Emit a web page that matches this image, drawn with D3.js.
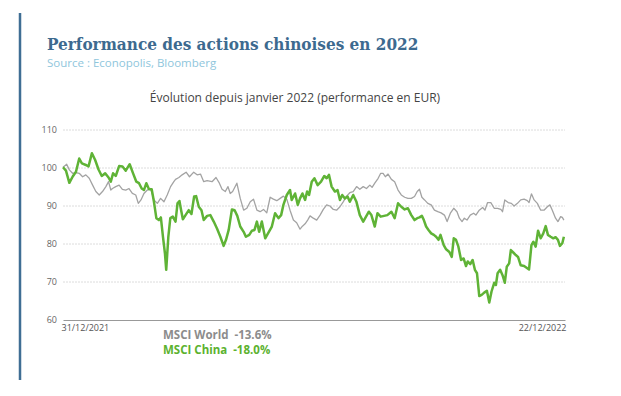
<!DOCTYPE html>
<html>
<head>
<meta charset="utf-8">
<script src="https://cdn.jsdelivr.net/npm/d3@7"></script>
<style>
  body { margin: 0; background: #fff; }
  svg { display: block; }
</style>
</head>
<body>
<script>
// Data (days since 31/12/2021, index base 100)
var worldDays = [0, 2.6, 4.5, 6.8, 9.2, 11.5, 13.9, 16.2, 18.6, 21, 23.3, 25.7, 28, 30.4, 32.3, 33.9, 35.1, 37.4, 39.8, 42.1, 44.5, 46.8, 49.2, 51.6, 53.4, 55.3, 57.4, 59.8, 62.1, 64.5, 66.9, 69.2, 71.6, 73.9, 76.3, 78.6,
  79.8, 82.2, 84.5, 87.3, 89.7, 92.7, 95.1, 97.5, 99.8, 102.2, 105.7, 108.5, 110.9, 112.8, 115.1, 117, 118.6, 120.3, 123.3, 125.7, 128.1, 130.4, 132.8, 135.1, 137.5, 139.8, 142.2, 144.5, 146.9, 149.2, 151.6, 154, 156.3, 158.7, 161, 163.4, 165.7,
  168.1, 169.8, 171.7, 173.5, 175.2, 177.5, 179.9, 182.3, 184.6, 187, 189.3, 191.7, 194, 196.4, 198.7, 201.1, 203.4, 205.8, 208.2, 210.5, 212.9, 215.2, 217.6, 219.2, 221.1, 223.5, 225.3, 227, 228.6, 230.5, 232.9, 235.2, 237.6, 239.9, 242.3, 244.6, 247,
  249.3, 251.2, 252.8, 254.5, 256.4, 258.7, 261.1, 263.4, 265.8, 268.1, 270.5, 272.4, 274.7, 277.1, 279.4, 281.1, 283, 284.6, 286.5, 288.8, 291.2, 292.8, 295.2, 297.6, 299.2, 301.1, 303.4, 305.8, 308.2, 310.5, 311.7, 313.3, 315.7, 318, 319.9, 322.3, 324.6, 327, 329.3, 330.5, 332.2, 334.1, 336.4, 338.8, 341.1, 343.5, 345.3, 347, 349.3, 351, 352.9, 354.1, 355.2];
var worldValues = [100.2, 101, 99.5, 98.6, 98.8, 98.6, 97.7, 98.2, 97.3, 95.5, 93.8, 92.9, 93.8, 95.1, 96.4, 94.2, 94.6, 95.1, 95.5, 94.4, 94.2, 94.6, 93.3, 92.9, 90.7, 91.6, 93.3, 94.2, 94.6, 91.6, 90.7, 92, 91.1, 92.9, 95.1, 96.4,
  97, 97.5, 98.2, 98.9, 97.7, 98.9, 98.2, 98.4, 96.4, 96.7, 96.4, 97.5, 96, 94.4, 93.8, 95.1, 93.3, 93.8, 96, 92, 88.9, 89.4, 91.1, 91.8, 88.9, 88.5, 89.1, 88.2, 92.3, 91.8, 91.4, 92, 92.6, 91.8, 88.9, 86.3, 85.6,
  83.9, 84.7, 85.3, 86.3, 87.4, 86.8, 86.3, 87.6, 89.1, 90.3, 90, 89.1, 88.9, 89.8, 91.1, 92.6, 93.5, 93.8, 95.1, 94.4, 95.1, 94.6, 95.5, 94.9, 96, 97.3, 98.6, 98.6, 97.7, 98.4, 97, 96.4, 94.2, 92.9, 92.3, 92, 92,
  92.5, 93.8, 94.4, 92.3, 91.6, 90.7, 90.3, 88.9, 88.5, 88.2, 87.6, 85.9, 88.1, 89.4, 88.5, 86.8, 85.9, 86.8, 86.3, 87.6, 88.1, 87.6, 88.9, 89.6, 88.9, 90.9, 90.9, 89.4, 89.4, 89.1, 88.5, 91.6, 90.9, 90.7, 90, 90.7, 91.6, 91.8, 91.4, 90.9, 93.2, 91.6, 90.7, 88.9, 88.9, 89.8, 90.3, 88.9, 86.8, 85.9, 87.2, 87, 86.3];

var chinaDays = [0, 2.1, 4.5, 6.8, 9.2, 11.5, 13.4, 16.2, 18.1, 20.5, 22.8, 25.2, 27.5, 29.9, 32.3, 33.9, 35.5, 37.4, 39.8, 42.2, 44.5, 47.3, 49.7, 52, 53.9, 55.8, 57.4, 59.1, 61, 62.9, 64.5, 66.2, 68, 69.4, 70.9, 72.3, 73.2, 74.7, 76.1, 77.9, 79.8, 81.2, 82.6,
  83.3, 85, 86.9, 89.2, 91.1, 93, 94.4, 96.3, 98.2, 99.8, 102.2, 104.5, 106.9, 109.2, 111.6, 113.9, 115.6, 117.5, 119.8, 121.7, 123.6, 125.7, 128.1, 129.7, 132.1, 134, 135.8, 137.5, 139.1, 141, 143.4, 145.7, 148.1, 150.4, 152.8, 154.7, 156.3, 158.7, 161, 162.2,
  164.6, 166.5, 168.1, 169.8, 171.7, 173.1, 174.5, 176.4, 178.3, 180.6, 183, 185.3, 187, 188.6, 190.5, 192.8, 194.7, 196.4, 198, 199.9, 201.8, 203.4, 205.8, 208.1, 210.5, 212.9, 215.2, 216.9, 218.7, 221.1, 223, 225.3, 227.7, 230, 232.9, 235.2, 237.6, 239.9, 242.3, 244.6, 247,
  249.3, 251.2, 252.8, 254.5, 255.9, 257.5, 259.2, 261.1, 263, 264.6, 266.3, 267.7, 270, 271.7, 274, 275.7, 277.1, 278.7, 280.4, 282.3, 284.1, 285.8, 287, 288.8, 290.5, 292.1, 293.6, 295.2, 296.9, 298.7, 300.6, 302.3, 303.9, 305.8, 307, 308.2, 310, 311.7, 313.3, 314.7, 316.4, 317.6, 319.5, 321.1, 322.7, 324.6, 327, 330.5, 332.2, 333.6, 335.2, 336.9, 338.8, 340.6, 342.3, 343.9, 345.8, 347.7, 349.3, 351, 352.4, 354.1, 355.2];
var chinaValues = [100.2, 99.3, 96.1, 97.7, 99, 102.5, 101.2, 100.8, 100.4, 103.9, 102.1, 99.6, 97.9, 98.6, 97.5, 96.4, 98.6, 97.9, 100.5, 100.4, 99.3, 101, 98.6, 96.4, 96, 94.6, 94.2, 96, 94.4, 94.4, 91.1, 86.8, 86.3, 87, 81.9, 77.5, 73.2, 81.9, 86.8, 87.2, 85.9, 90.7, 91.3,
  89.8, 86.5, 87.6, 88.9, 87.9, 92.5, 92.6, 89.8, 88.9, 86.3, 87.4, 87.6, 85.9, 84.1, 81.9, 79.5, 81.1, 83.7, 89.1, 88.9, 87.4, 84.6, 83.2, 81.9, 82.4, 83.5, 83.7, 85.9, 83.2, 85.9, 81.5, 83, 84.6, 88.1, 86.8, 87.6, 90.3, 92.9, 94.2, 91.6,
  93.3, 90.3, 92, 93.3, 91.6, 93.8, 92.9, 96.4, 97.3, 95.5, 96.4, 97.9, 97.3, 98.2, 95.1, 93.8, 94.2, 91.6, 92.9, 92, 92.5, 91.1, 92.9, 91.1, 87.6, 85.9, 87.4, 88.5, 87.6, 84.6, 88.1, 87.2, 87.4, 87.6, 88.5, 86.8, 90.7, 89.8, 89.1, 89.4, 87.6,
  86.3, 86.8, 87, 87.4, 86.3, 84.6, 83.7, 82.8, 82.4, 81.9, 81.1, 82.4, 79.7, 78.6, 77.9, 76.6, 81.5, 81.1, 79.3, 75.8, 76.2, 74.2, 75.4, 74.7, 75.8, 73.2, 72.3, 66.3, 66.6, 67.2, 67.7, 64.6, 67.5, 69.8, 69.2, 72.3, 73.2, 71.8, 69.8, 74, 74.9, 78.4, 77.7, 77.1, 76.6, 74.4, 74.2, 73.3, 79.7, 80.6, 79.3, 83.5, 81.5, 82.8, 84.7, 82.4, 81.9, 81.5, 81.8, 81.1, 79.5, 80.2, 81.9];

var yTicks = [60, 70, 80, 90, 100, 110];
var xTickDays = [0, 356];
var xTickLabels = ["31/12/2021", "22/12/2022"];
var legendNames = ["MSCI World", "MSCI China"];
var legendPerf = ["-13.6%", "-18.0%"];

var WIDTH = 621, HEIGHT = 396;
var margin = {left: 63, right: 56, top: 130, bottom: 76};
var greyCol = "#a3a3a3", greenCol = "#5fb336";

var svg = d3.select("body").append("svg").attr("width", WIDTH).attr("height", HEIGHT);

// left accent bar
svg.append("line").attr("x1", 20).attr("x2", 20).attr("y1", 13).attr("y2", 380)
  .attr("stroke", "#3f6e94").attr("stroke-width", 2.5);

// Title
svg.append("text").text("Performance des actions chinoises en 2022")
  .attr("x", 47).attr("y", 50)
  .attr("font-family", "'DejaVu Serif', serif").attr("font-weight", "bold")
  .attr("font-stretch", "condensed").style("font-stretch", "condensed")
  .attr("font-size", "17px").attr("fill", "#3d6a8f");
svg.append("text").text("Source : Econopolis, Bloomberg")
  .attr("x", 47).attr("y", 67)
  .attr("font-family", "'Open Sans', sans-serif").attr("font-size", "11.5px")
  .attr("fill", "#8fc6dc");

// Chart title
svg.append("text").text("Évolution depuis janvier 2022 (performance en EUR)")
  .attr("x", 295).attr("y", 102).attr("text-anchor", "middle")
  .attr("font-family", "'Open Sans', sans-serif").attr("font-size", "12px")
  .attr("fill", "#444");

var x_scale = d3.scaleLinear().domain([0, 356]).range([margin.left, WIDTH - margin.right]);
var y_scale = d3.scaleLinear().domain([60, 110]).range([HEIGHT - margin.bottom, margin.top]);

// gridlines
svg.append("g").selectAll("line").data(yTicks.filter(function(d) { return d > 60; })).enter().append("line")
  .attr("x1", x_scale(0)).attr("x2", x_scale(356))
  .attr("y1", function(d) { return y_scale(d); }).attr("y2", function(d) { return y_scale(d); })
  .attr("stroke", "#dcdcdc").attr("stroke-width", 1).attr("stroke-dasharray", "2,1");

// Y axis labels
var yAxis = svg.append("g").attr("transform", "translate(" + (margin.left - 6) + ",0)")
  .call(d3.axisLeft(y_scale).tickValues(yTicks).tickSize(0).tickPadding(0));
yAxis.select(".domain").remove();
yAxis.selectAll("text").attr("font-family", "'Open Sans', sans-serif").attr("font-size", "9px").attr("fill", "#666");

// X axis
var xAxis = svg.append("g").attr("transform", "translate(0," + y_scale(60) + ")")
  .call(d3.axisBottom(x_scale).tickValues(xTickDays).tickSize(0).tickPadding(5)
    .tickFormat(function(d, i) { return xTickLabels[i]; }));
xAxis.select(".domain").attr("stroke", "#999").attr("stroke-width", 1);
xAxis.selectAll("text").attr("font-family", "'Open Sans', sans-serif").attr("font-size", "9px").attr("fill", "#555")
  .attr("text-anchor", function(d, i) { return i == 0 ? "start" : "end"; })
  .attr("dx", function(d, i) { return i == 0 ? "-2" : "1"; });

var line = d3.line().x(function(d) { return x_scale(d[0]); }).y(function(d) { return y_scale(d[1]); });

var world = worldDays.map(function(d, i) { return [d, worldValues[i]]; });
var china = chinaDays.map(function(d, i) { return [d, chinaValues[i]]; });

svg.append("path").datum(world).attr("d", line)
  .attr("fill", "none").attr("stroke", greyCol).attr("stroke-width", 1.3).attr("stroke-linejoin", "round");
svg.append("path").datum(china).attr("d", line)
  .attr("fill", "none").attr("stroke", greenCol).attr("stroke-width", 2.5).attr("stroke-linejoin", "round");

// Legend
var leg = svg.append("g");
legendNames.forEach(function(n, i) {
  leg.append("text").attr("x", 163).attr("y", 339 + i * 15)
    .attr("font-family", "'Open Sans', sans-serif").attr("font-weight", "bold").attr("font-size", "11.5px")
    .attr("fill", i == 0 ? "#8c8c8c" : "#5cb22f")
    .style("white-space", "pre")
    .text(n + "  " + legendPerf[i]);
});
</script>
</body>
</html>
